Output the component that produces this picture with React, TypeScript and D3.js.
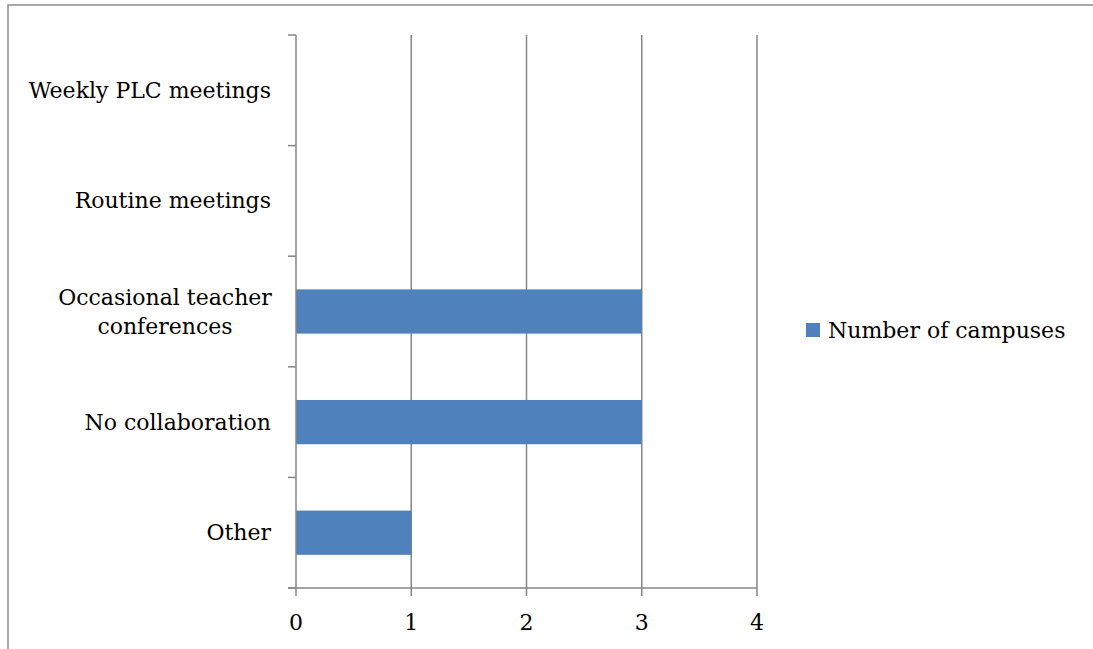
import React from "react";
import * as d3 from "d3";

const categories: string[] = [
  "Weekly PLC meetings",
  "Routine meetings",
  "Occasional teacher conferences",
  "No collaboration",
  "Other",
];
const values: number[] = [0, 0, 3, 3, 1];
const xTicks: number[] = [0, 1, 2, 3, 4];
const seriesName = "Number of campuses";

const labelLines: Record<string, string[]> = {
  "Occasional teacher conferences": ["Occasional teacher", "conferences"],
};

export default function App() {
  const W = 1093, H = 649;
  const left = 296, right = 757, top = 35, bottom = 588;
  const x = d3.scaleLinear().domain([0, 4]).range([left, right]);
  const y = d3.scaleBand<string>().domain(categories).range([top, bottom]).paddingInner(0.6).paddingOuter(0.3);
  const band = (bottom - top) / categories.length;
  const font = "'DejaVu Serif', serif";
  const fs = 22;
  const axisColor = "#868686";
  const barColor = "#4F81BD";
  return (
    <svg width={W} height={H} style={{ position: "absolute", left: 0, top: 0, background: "#fff" }}>
      <rect x={8} y={5} width={W} height={H} fill="#fff" stroke="#8c8c8c" strokeWidth={1.5} />
      {xTicks.slice(1).map((t) => (
        <line key={"g" + t} x1={x(t)} x2={x(t)} y1={top} y2={bottom} stroke={axisColor} strokeWidth={1.5} />
      ))}
      {values.map((v, i) => (
        <rect key={"b" + i} x={x(0)} y={y(categories[i])!} width={x(v) - x(0)} height={y.bandwidth()} fill={barColor} />
      ))}
      <line x1={left} x2={left} y1={top} y2={bottom} stroke={axisColor} strokeWidth={1.5} />
      {d3.range(categories.length + 1).map((i) => (
        <line key={"yt" + i} x1={left - 8} x2={left} y1={top + i * band} y2={top + i * band} stroke={axisColor} strokeWidth={1.5} />
      ))}
      <line x1={left - 8} x2={right} y1={bottom} y2={bottom} stroke={axisColor} strokeWidth={1.5} />
      {xTicks.map((t) => (
        <g key={"xt" + t}>
          <line x1={x(t)} x2={x(t)} y1={bottom} y2={bottom + 8} stroke={axisColor} strokeWidth={1.5} />
          <text x={x(t)} y={622} textAnchor="middle" dominantBaseline="central" fontFamily={font} fontSize={fs} fill="#000">{t}</text>
        </g>
      ))}
      {categories.map((c, i) => {
        const cy = top + (i + 0.5) * band;
        const lines = labelLines[c];
        if (lines) {
          return (
            <text key={"c" + i} x={165} textAnchor="middle" fontFamily={font} fontSize={fs} fill="#000">
              {lines.map((l, j) => (
                <tspan key={j} x={165} y={cy + (j - (lines.length - 1) / 2) * 29} dominantBaseline="central">{l}</tspan>
              ))}
            </text>
          );
        }
        return (
          <text key={"c" + i} x={271} y={cy} textAnchor="end" dominantBaseline="central" fontFamily={font} fontSize={fs} fill="#000">{c}</text>
        );
      })}
      <rect x={806} y={323} width={14} height={14} fill={barColor} />
      <text x={828} y={330} dominantBaseline="central" fontFamily={font} fontSize={fs} fill="#000">{seriesName}</text>
    </svg>
  );
}
